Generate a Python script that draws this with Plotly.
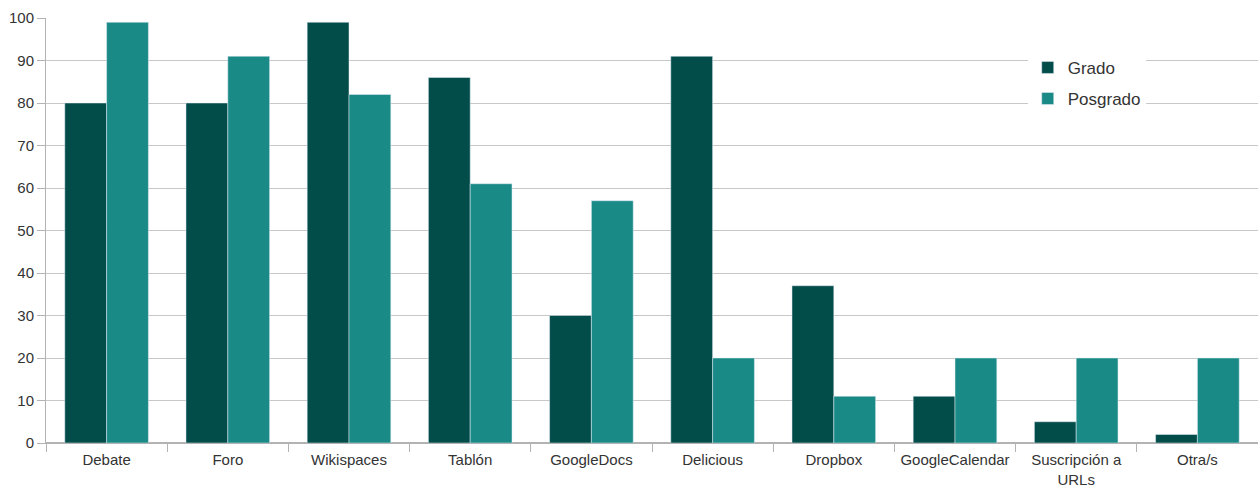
import plotly.graph_objects as go

categories = ["Debate", "Foro", "Wikispaces", "Tablón", "GoogleDocs", "Delicious",
              "Dropbox", "GoogleCalendar", "Suscripción a<br>URLs", "Otra/s"]
grado = [80, 80, 99, 86, 30, 91, 37, 11, 5, 2]
posgrado = [99, 91, 82, 61, 57, 20, 11, 20, 20, 20]
y_ticks = [0, 10, 20, 30, 40, 50, 60, 70, 80, 90, 100]

fig = go.Figure()
fig.add_trace(go.Bar(x=categories, y=grado, name="Grado", marker_color="#024c4a",
                     legendgroup="a"))
fig.add_trace(go.Bar(x=categories, y=posgrado, name="Posgrado", marker_color="#1a8a87",
                     legendgroup="b"))

fig.update_layout(
    width=1258, height=488,
    margin=dict(l=46, r=0, t=18, b=45),
    paper_bgcolor="white", plot_bgcolor="white",
    barmode="group", bargap=0.31, bargroupgap=0,
    font=dict(family="Liberation Sans, Arial, sans-serif", size=15, color="#333333"),
    legend=dict(x=0.810, y=0.925, xanchor="left", yanchor="top",
                bgcolor="white", font=dict(size=17, color="#333333"),
                tracegroupgap=6, itemwidth=30),
    showlegend=True,
    xaxis=dict(showline=True, linecolor="#b3b3b3", ticks="outside", tickson="boundaries",
               tickcolor="#b3b3b3", ticklen=8, showgrid=False, ticklabelstandoff=3,
               automargin=False),
    yaxis=dict(range=[0, 100], tickvals=y_ticks, showgrid=True, gridcolor="#c8c8c8",
               showline=True, linecolor="#b3b3b3", ticks="outside", tickcolor="#b3b3b3",
               ticklen=8, zeroline=True, zerolinecolor="#b3b3b3", automargin=False),
)

fig.write_html("out.html")
